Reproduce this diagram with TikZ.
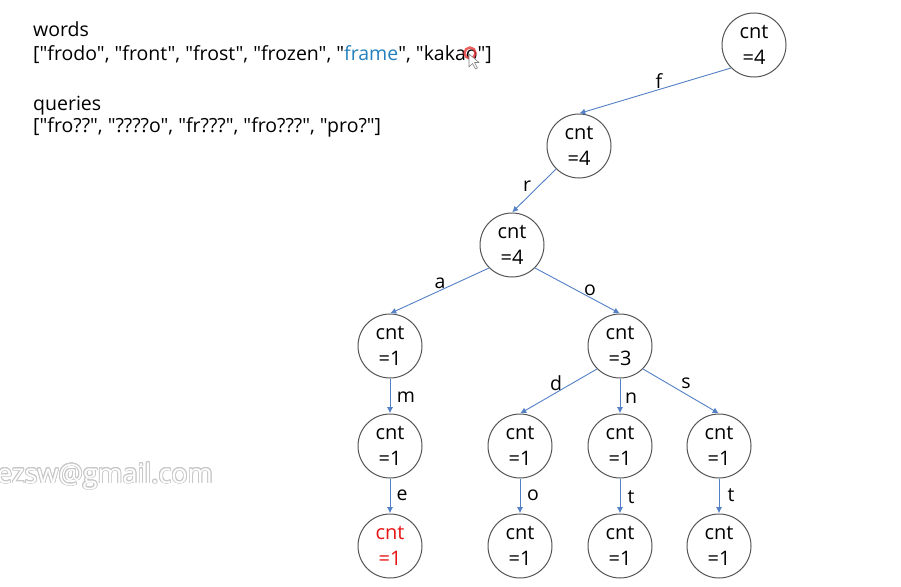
\documentclass[tikz,border=0pt]{standalone}
\usepackage{fontspec}
\setmainfont{Open Sans}[Ligatures=TeXOff]
\usepackage[copies]{contour}
\usetikzlibrary{arrows.meta}
\definecolor{edgeblue}{RGB}{84,128,198}
\definecolor{ringgray}{RGB}{85,85,85}
\definecolor{wordblue}{RGB}{36,128,190}
\definecolor{hotred}{RGB}{230,20,20}
\definecolor{markgray}{RGB}{200,200,200}
\tikzset{
  trienode/.style={circle, draw=ringgray, line width=1pt, minimum size=64pt,
    inner sep=0pt, align=center, font=\fontsize{20}{26}\selectfont},
  link/.style={draw=edgeblue, line width=0.9pt, -{Latex[length=6pt,width=6pt]}, shorten >=0.3pt},
  letter/.style={anchor=base, font=\fontsize{19.5}{22}\selectfont, inner sep=0pt},
  listtext/.style={anchor=base west, font=\fontsize{19.5}{22}\selectfont, inner sep=0pt}
}
\begin{document}
\begin{tikzpicture}[x=1pt, y=-1pt]
  \useasboundingbox[fill=white] (0,0) rectangle (901,586);

  % input lists
  \node[listtext] (wlabel) at (33,37) {words};
  \node[listtext] (wlist) at (33,60) {["frodo", "front", "frost", "frozen", "\textcolor{wordblue}{frame}", "kakao"]};
  \node[listtext] (qlabel) at (33,110) {queries};
  \node[listtext] (qlist) at (33,132) {["fro??", "????o", "fr???", "fro???", "pro?"]};

  % pointer highlight over the last word
  \draw[hotred!85, line width=2.4pt, opacity=0.8] (470,53) circle (5.5pt);
  \draw[fill=white, draw=gray, line width=0.6pt, line join=round]
    (469,54) -- (469,67) -- (472.5,63.5) -- (475.5,69) -- (477.5,68) -- (474.5,62.5) -- (479,62.5) -- cycle;

  % mail watermark
  \node[anchor=base east, inner sep=0pt, font=\fontsize{27}{30}\selectfont] (mark) at (213,483)
    {\contourlength{0.9pt}\contour{markgray}{\textcolor{white}{ezsw@gmail.com}}};

  % trie nodes
  \node[trienode] (root) at (754,45) {cnt\\=4};
  \node[trienode] (nf)   at (579,146) {cnt\\=4};
  \node[trienode] (nfr)  at (512,245) {cnt\\=4};
  \node[trienode] (nfra) at (390,346) {cnt\\=1};
  \node[trienode] (nfro) at (620,346) {cnt\\=3};
  \node[trienode] (nfram) at (390,446) {cnt\\=1};
  \node[trienode] (nfrod) at (520,446) {cnt\\=1};
  \node[trienode] (nfron) at (620,446) {cnt\\=1};
  \node[trienode] (nfros) at (719,446) {cnt\\=1};
  \node[trienode] (nframe) at (390,546) {\textcolor{hotred}{cnt}\\\textcolor{hotred}{=1}};
  \node[trienode] (nfrodo) at (520,546) {cnt\\=1};
  \node[trienode] (nfront) at (620,546) {cnt\\=1};
  \node[trienode] (nfrost) at (719,546) {cnt\\=1};

  % trie edges, from the parent's lower rim to the child's top
  \draw[link] (root.south west) -- (nf.north);
  \draw[link] (nf.south west) -- (nfr.north);
  \draw[link] (nfr.south west) -- (nfra.north);
  \draw[link] (nfr.south east) -- (nfro.north);
  \draw[link] (nfra.south) -- (nfram.north);
  \draw[link] (nfro.south west) -- (nfrod.north);
  \draw[link] (nfro.south) -- (nfron.north);
  \draw[link] (nfro.south east) -- (nfros.north);
  \draw[link] (nfram.south) -- (nframe.north);
  \draw[link] (nfrod.south) -- (nfrodo.north);
  \draw[link] (nfron.south) -- (nfront.north);
  \draw[link] (nfros.south) -- (nfrost.north);

  % edge letters
  \node[letter] (lf) at (659,88) {f};
  \node[letter] (lr) at (527,191) {r};
  \node[letter] (la) at (440,288) {a};
  \node[letter] (lo) at (590,295) {o};
  \node[letter] (lm) at (406,402) {m};
  \node[letter] (ld) at (556,390) {d};
  \node[letter] (ln) at (631,403) {n};
  \node[letter] (ls) at (686,388) {s};
  \node[letter] (le) at (402,500) {e};
  \node[letter] (lo2) at (533,500) {o};
  \node[letter] (lt) at (631,503) {t};
  \node[letter] (lt2) at (731,501) {t};
\end{tikzpicture}
\end{document}
